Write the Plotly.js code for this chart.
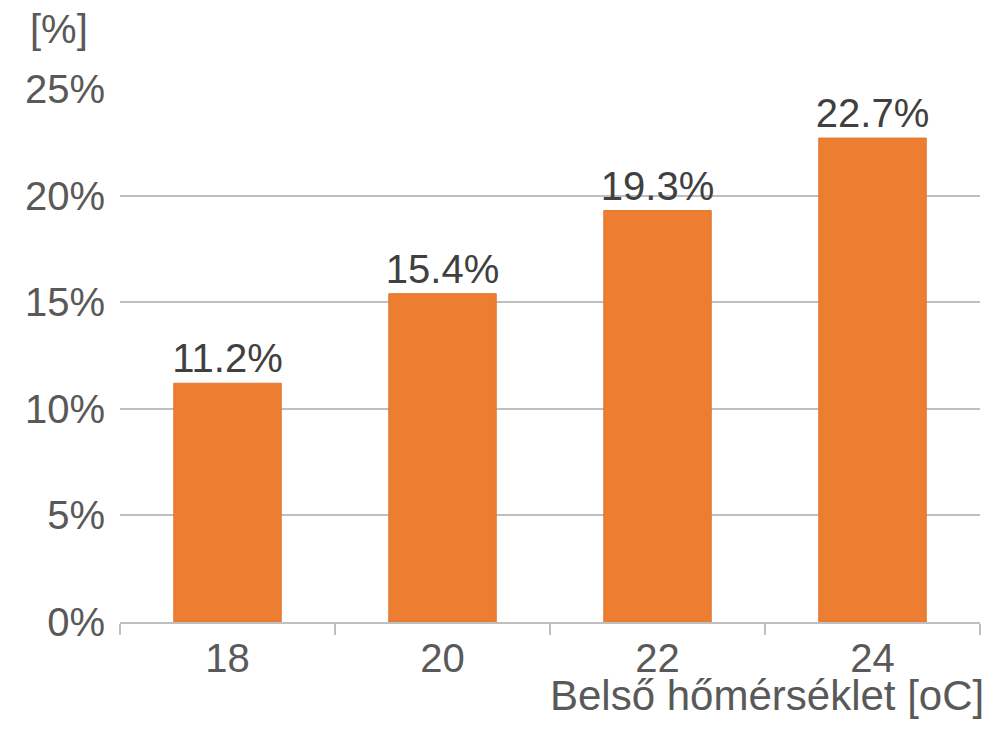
<!DOCTYPE html>
<html>
<head>
<meta charset="utf-8">
<script src="https://cdn.plot.ly/plotly-3.0.1.min.js"></script>
<style>html,body{margin:0;padding:0;background:#fff;}#chart{width:1002px;height:730px;}</style>
</head>
<body>
<div id="chart"></div>
<script>
const categories = ['18', '20', '22', '24'];
const values = [11.2, 15.4, 19.3, 22.7];
const valueLabels = ['11.2%', '15.4%', '19.3%', '22.7%'];
const yTicks = [0, 5, 10, 15, 20, 25];
const yTickLabels = ['0%', '5%', '10%', '15%', '20%', '25%'];
const yTitle = '[%]';
const xTitle = 'Belső hőmérséklet [oC]';

const FONT = 'Liberation Sans, Arial, sans-serif';

const trace = {
  type: 'bar',
  x: categories,
  y: values,
  text: valueLabels,
  textposition: 'outside',
  textfont: {family: FONT, size: 40, color: '#404040'},
  constraintext: 'none',
  cliponaxis: false,
  marker: {color: '#ED7D31', line: {color: '#E07A36', width: 1}},
  width: 0.5,
  hoverinfo: 'none'
};

const layout = {
  width: 1002,
  height: 730,
  margin: {l: 120, r: 22, t: 89, b: 108},
  paper_bgcolor: '#ffffff',
  plot_bgcolor: '#ffffff',
  showlegend: false,
  font: {family: FONT, size: 40, color: '#595959'},
  xaxis: {
    type: 'category',
    showgrid: false,
    showline: true,
    linecolor: '#BFBFBF',
    linewidth: 2,
    ticks: 'outside',
    tickson: 'boundaries',
    ticklen: 11,
    tickwidth: 2,
    tickcolor: '#BFBFBF',
    tickfont: {family: FONT, size: 40, color: '#595959'},
    zeroline: false
  },
  yaxis: {
    range: [0, 25],
    tickvals: yTicks,
    ticktext: yTickLabels,
    showgrid: true,
    gridcolor: '#BFBFBF',
    gridwidth: 2,
    zeroline: false,
    showline: false,
    ticks: '',
    ticklabelstandoff: 14,
    tickfont: {family: FONT, size: 40, color: '#595959'}
  },
  annotations: [
    {text: yTitle, xref: 'paper', yref: 'paper', x: 0, y: 1, xshift: -92, yshift: 60,
     xanchor: 'left', yanchor: 'middle', showarrow: false,
     font: {family: FONT, size: 40, color: '#595959'}},
    {text: xTitle, xref: 'paper', yref: 'paper', x: 1, y: 0, xshift: 6, yshift: -73,
     xanchor: 'right', yanchor: 'middle', showarrow: false,
     font: {family: FONT, size: 42, color: '#595959'}}
  ]
};

Plotly.newPlot('chart', [trace], layout, {staticPlot: true, displayModeBar: false});
</script>
</body>
</html>
